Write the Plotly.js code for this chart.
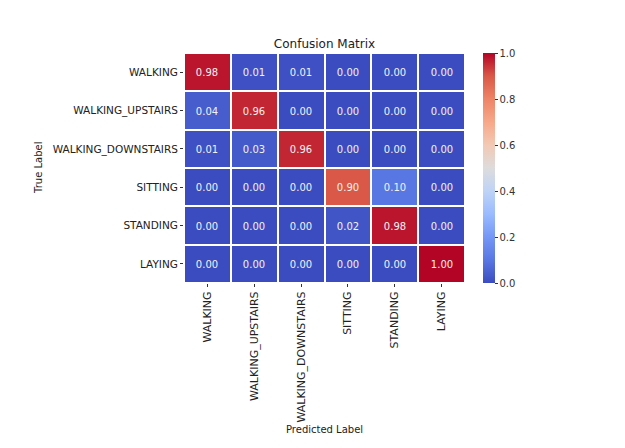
<!DOCTYPE html>
<html>
<head>
<meta charset="utf-8">
<script src="https://cdn.plot.ly/plotly-3.0.1.min.js"></script>
<style>
  html, body { margin: 0; padding: 0; background: #fff; }
  #chart { width: 625px; height: 448px; }
</style>
</head>
<body>
<div id="chart"></div>
<script>
// activity classes (rows = true, columns = predicted)
const labels = ['WALKING', 'WALKING_UPSTAIRS', 'WALKING_DOWNSTAIRS', 'SITTING', 'STANDING', 'LAYING'];

const rowWalking    = [0.98, 0.01, 0.01, 0.00, 0.00, 0.00];
const rowUpstairs   = [0.04, 0.96, 0.00, 0.00, 0.00, 0.00];
const rowDownstairs = [0.01, 0.03, 0.96, 0.00, 0.00, 0.00];
const rowSitting    = [0.00, 0.00, 0.00, 0.90, 0.10, 0.00];
const rowStanding   = [0.00, 0.00, 0.00, 0.02, 0.98, 0.00];
const rowLaying     = [0.00, 0.00, 0.00, 0.00, 0.00, 1.00];

const colorbarTicks = [0, 0.2, 0.4, 0.6, 0.8, 1.0];

// matplotlib "coolwarm", sampled
const coolwarm = [
  [0.0, '#3b4cc0'], [0.1, '#5977e3'], [0.2, '#7597f6'], [0.3, '#9abbff'],
  [0.4, '#bfd3f6'], [0.5, '#dddcdc'], [0.6, '#f2c9b4'], [0.7, '#f7a889'],
  [0.8, '#ee8468'], [0.9, '#d95847'], [1.0, '#b40426']
];

const font = 'DejaVu Sans, sans-serif';

const trace = {
  type: 'heatmap',
  x: labels,
  y: labels,
  z: [rowWalking, rowUpstairs, rowDownstairs, rowSitting, rowStanding, rowLaying],
  zmin: 0,
  zmax: 1,
  colorscale: coolwarm,
  xgap: 2,
  ygap: 2,
  texttemplate: '%{z:.2f}',
  textfont: {family: font, size: 10, color: '#f2f2f2'},
  hoverinfo: 'skip',
  colorbar: {
    x: 1.064,
    xanchor: 'left',
    xpad: 0,
    y: 0.5,
    len: 1,
    ypad: 0,
    thickness: 12,
    outlinewidth: 0,
    tickvals: colorbarTicks,
    ticktext: colorbarTicks.map(v => v.toFixed(1)),
    ticks: 'outside',
    ticklen: 3,
    tickcolor: '#333',
    tickfont: {family: font, size: 10, color: '#333'}
  }
};

const layout = {
  width: 625,
  height: 448,
  paper_bgcolor: '#fff',
  plot_bgcolor: '#fff',
  margin: {l: 184, r: 160, t: 53, b: 165},
  title: {
    text: 'Confusion Matrix',
    font: {family: font, size: 12, color: '#222'},
    x: 0.5, xref: 'paper', xanchor: 'center',
    y: 1, yref: 'paper', yanchor: 'bottom', pad: {b: 5}
  },
  xaxis: {
    type: 'category',
    automargin: false,
    tickangle: -90,
    ticks: 'outside',
    ticklen: 3,
    tickcolor: '#333',
    tickfont: {family: font, size: 11, color: '#222'},
    showgrid: false,
    zeroline: false
  },
  yaxis: {
    type: 'category',
    automargin: false,
    autorange: 'reversed',
    ticks: 'outside',
    ticklen: 3,
    tickcolor: '#333',
    tickfont: {family: font, size: 10.5, color: '#222'},
    showgrid: false,
    zeroline: false
  },
  annotations: [
    {text: 'Predicted Label', xref: 'paper', yref: 'paper', x: 0.5, y: -0.639,
     xanchor: 'center', yanchor: 'middle', showarrow: false,
     font: {family: font, size: 10, color: '#222'}},
    {text: 'True Label', xref: 'paper', yref: 'paper', x: -0.52, y: 0.5, textangle: -90,
     xanchor: 'center', yanchor: 'middle', showarrow: false,
     font: {family: font, size: 10, color: '#222'}}
  ]
};

Plotly.newPlot('chart', [trace], layout, {displayModeBar: false, staticPlot: true});
</script>
</body>
</html>
